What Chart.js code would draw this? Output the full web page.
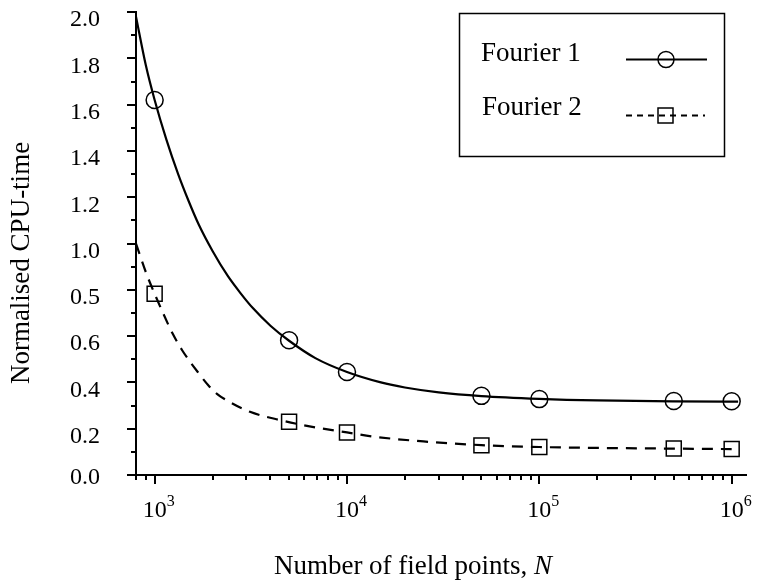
<!DOCTYPE html>
<html>
<head>
<meta charset="utf-8">
<script src="https://cdn.jsdelivr.net/npm/chart.js@4.4.1/dist/chart.umd.min.js"></script>
<style>
  html, body { margin: 0; padding: 0; background: #fff; }
</style>
</head>
<body>
<canvas id="chart" width="759" height="585"></canvas>
<script>
// measured points (markers)
var sizes = [1e3, 5e3, 1e4, 5e4, 1e5, 5e5, 1e6];
var fourier1 = [1.62, 0.582, 0.445, 0.342, 0.328, 0.320, 0.319];
var fourier2 = [0.783, 0.230, 0.184, 0.128, 0.121, 0.115, 0.112];

// the fitted curves at a few N
var curve1N = [800, 900, 1000, 1150, 1325, 1500, 1700, 2000, 2400, 2800, 3250, 4000, 5000, 6850, 1e4, 1.5e4, 2e4, 3e4, 5e4, 1e5, 2e5, 5e5, 1e6, 1.08e6];
var curve1 = [1.98, 1.77, 1.62, 1.45, 1.30, 1.185, 1.08, 0.968, 0.86, 0.785, 0.72, 0.645, 0.58, 0.505, 0.445, 0.40, 0.378, 0.357, 0.341, 0.329, 0.322, 0.318, 0.317, 0.317];
var curve2N = [800, 907, 1000, 1100, 1240, 1390, 1700, 1900, 2100, 2400, 3130, 4500, 6600, 1e4, 1.4e4, 2.5e4, 5e4, 1e5, 2e5, 5e5, 1e6];
var curve2 = [1.0, 0.869, 0.783, 0.704, 0.611, 0.539, 0.438, 0.388, 0.352, 0.320, 0.273, 0.237, 0.208, 0.184, 0.165, 0.145, 0.129, 0.121, 0.117, 0.114, 0.112];

// axis ticks
var yTicks = [0, 0.2, 0.4, 0.6, 0.8, 1.0, 1.2, 1.4, 1.6, 1.8, 2.0];
var yTickLabels = ['0.0', '0.2', '0.4', '0.6', '0.5', '1.0', '1.2', '1.4', '1.6', '1.8', '2.0'];
var yMinor = [0.1, 0.3, 0.5, 0.7, 0.9, 1.1, 1.3, 1.5, 1.7, 1.9];
var xMajor = [1e3, 1e4, 1e5, 1e6];
var xMajorExp = ['3', '4', '5', '6'];
var xMinor = [800, 900, 2e3, 3e3, 4e3, 5e3, 6e3, 7e3, 8e3, 9e3,
  2e4, 3e4, 4e4, 5e4, 6e4, 7e4, 8e4, 9e4,
  2e5, 3e5, 4e5, 5e5, 6e5, 7e5, 8e5, 9e5];

var seriesNames = ['Fourier 1', 'Fourier 2'];
var xTitle = 'Number of field points, ';
var xTitleVar = 'N';
var yTitle = 'Normalised CPU-time';

var FONT = '"Liberation Serif", "Times New Roman", serif';

function pts(xs, ys) {
  var out = [];
  for (var i = 0; i < xs.length; i++) out.push({x: xs[i], y: ys[i]});
  return out;
}

function noPad(s) {
  s.paddingTop = 0; s.paddingBottom = 0; s.paddingLeft = 0; s.paddingRight = 0;
}

// ticks, tick labels, titles and legend drawn on top
var decor = {
  id: 'decor',
  afterDraw: function (chart) {
    var ctx = chart.ctx;
    var xs = chart.scales.x, ys = chart.scales.y;
    var area = chart.chartArea;
    ctx.save();
    ctx.strokeStyle = '#000';
    ctx.fillStyle = '#000';
    ctx.lineWidth = 2;
    ctx.setLineDash([]);

    // x ticks
    xMajor.forEach(function (v) {
      var px = Math.round(xs.getPixelForValue(v));
      ctx.beginPath(); ctx.moveTo(px, area.bottom); ctx.lineTo(px, area.bottom + 9); ctx.stroke();
    });
    xMinor.forEach(function (v) {
      var px = Math.round(xs.getPixelForValue(v));
      ctx.beginPath(); ctx.moveTo(px, area.bottom); ctx.lineTo(px, area.bottom + 5); ctx.stroke();
    });
    // y ticks
    yTicks.forEach(function (v) {
      var py = Math.round(ys.getPixelForValue(v));
      ctx.beginPath(); ctx.moveTo(area.left - 9, py); ctx.lineTo(area.left, py); ctx.stroke();
    });
    yMinor.forEach(function (v) {
      var py = Math.round(ys.getPixelForValue(v));
      ctx.beginPath(); ctx.moveTo(area.left - 5, py); ctx.lineTo(area.left, py); ctx.stroke();
    });

    // y tick labels (they hang a little below their ticks)
    ctx.font = '24px ' + FONT;
    ctx.textAlign = 'right';
    ctx.textBaseline = 'middle';
    yTicks.forEach(function (v, i) {
      var py = ys.getPixelForValue(v);
      ctx.fillText(yTickLabels[i], 100, Math.min(py + 8, area.bottom + 3));
    });

    // x tick labels 10^n
    ctx.textBaseline = 'alphabetic';
    ctx.textAlign = 'left';
    xMajor.forEach(function (v, i) {
      var px = xs.getPixelForValue(v);
      ctx.font = '24px ' + FONT;
      var w = ctx.measureText('10').width;
      ctx.fillText('10', px - w / 2, 517);
      ctx.font = '16px ' + FONT;
      ctx.fillText(xMajorExp[i], px + w / 2, 506);
    });

    // x title with italic N
    ctx.font = '27px ' + FONT;
    var w1 = ctx.measureText(xTitle).width;
    ctx.font = 'italic 27px ' + FONT;
    var w2 = ctx.measureText(xTitleVar).width;
    var sx = 413 - (w1 + w2) / 2;
    ctx.font = '27px ' + FONT;
    ctx.fillText(xTitle, sx, 574);
    ctx.font = 'italic 27px ' + FONT;
    ctx.fillText(xTitleVar, sx + w1, 574);

    // y title
    ctx.save();
    ctx.translate(29, 263);
    ctx.rotate(-Math.PI / 2);
    ctx.font = '27px ' + FONT;
    ctx.textAlign = 'center';
    ctx.fillText(yTitle, 0, 0);
    ctx.restore();

    // legend
    ctx.lineWidth = 1.5;
    ctx.strokeRect(459.5, 13.5, 265, 143);
    ctx.font = '27px ' + FONT;
    ctx.textAlign = 'left';
    ctx.fillText(seriesNames[0], 481, 61);
    ctx.fillText(seriesNames[1], 482, 115);
    ctx.lineWidth = 2.2;
    ctx.beginPath(); ctx.moveTo(626, 59.5); ctx.lineTo(707, 59.5); ctx.stroke();
    ctx.lineWidth = 1.5;
    ctx.beginPath(); ctx.arc(666, 59.5, 8, 0, Math.PI * 2); ctx.stroke();
    ctx.lineWidth = 2.2;
    ctx.setLineDash([6, 5]);
    ctx.beginPath(); ctx.moveTo(626, 115.5); ctx.lineTo(705, 115.5); ctx.stroke();
    ctx.setLineDash([]);
    ctx.lineWidth = 1.5;
    ctx.strokeRect(658, 108, 15, 15);

    ctx.restore();
  }
};

var ctx = document.getElementById('chart');
var chart = new Chart(ctx, {
  type: 'line',
  data: {
    datasets: [
      {
        label: seriesNames[0] + ' curve',
        data: pts(curve1N, curve1),
        borderColor: '#000',
        borderWidth: 2.2,
        pointRadius: 0,
        cubicInterpolationMode: 'monotone',
        fill: false
      },
      {
        label: seriesNames[1] + ' curve',
        data: pts(curve2N, curve2),
        borderColor: '#000',
        borderWidth: 2.2,
        borderDash: [11, 8],
        pointRadius: 0,
        cubicInterpolationMode: 'monotone',
        fill: false
      },
      {
        label: seriesNames[0],
        data: pts(sizes, fourier1),
        showLine: false,
        pointStyle: 'circle',
        pointRadius: 8.5,
        pointBorderWidth: 1.5,
        pointBorderColor: '#000',
        pointBackgroundColor: 'rgba(0,0,0,0)'
      },
      {
        label: seriesNames[1],
        data: pts(sizes, fourier2),
        showLine: false,
        pointStyle: 'rect',
        pointRadius: 10.6,
        pointBorderWidth: 1.5,
        pointBorderColor: '#000',
        pointBackgroundColor: 'rgba(0,0,0,0)'
      }
    ]
  },
  options: {
    responsive: false,
    animation: false,
    layout: { padding: { top: 11, right: 0, left: 0, bottom: 0 } },
    plugins: {
      legend: { display: false },
      tooltip: { enabled: false }
    },
    scales: {
      x: {
        type: 'logarithmic',
        min: 800,
        max: 1.2e6,
        grid: { display: false, drawTicks: false },
        border: { display: true, color: '#000', width: 2 },
        ticks: { display: false },
        afterFit: function (s) { s.height = 110; noPad(s); }
      },
      y: {
        min: 0,
        max: 2,
        grid: { display: false, drawTicks: false },
        border: { display: true, color: '#000', width: 2 },
        ticks: { display: false },
        afterFit: function (s) { s.width = 136; noPad(s); }
      }
    }
  },
  plugins: [decor]
});
</script>
</body>
</html>
